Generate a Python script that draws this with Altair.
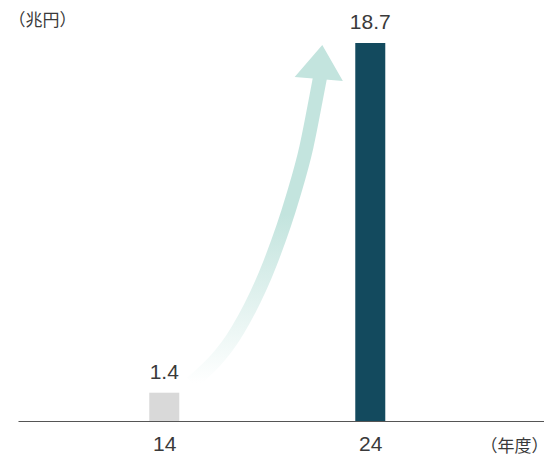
import altair as alt
import pandas as pd

# data
years = [14, 24]
values = [1.4, 18.7]
bar_colors = ["#d9d9d9", "#134a5e"]
value_labels = ["1.4", "18.7"]

# decorative growth arrow (data units)
arrow_x = [15.33, 17.57, 19.14, 20.24, 20.90, 21.38, 21.57]
arrow_y = [1.88, 4.50, 7.82, 11.08, 13.56, 16.03, 17.05]
head_x = [20.33, 21.67, 22.67]
head_y = [17.02, 18.60, 16.82]
head_y2 = [17.02, 16.91, 16.82]

ARROW = "#c3e4de"
TEXT = "#3a3a3a"

bars_df = pd.DataFrame({"year": years, "value": values, "color": bar_colors, "label": value_labels})
arrow_df = pd.DataFrame({"x": arrow_x, "y": arrow_y, "o": list(range(len(arrow_x)))})
head_df = pd.DataFrame({"x": head_x, "y": head_y, "y2": head_y2})

xscale = alt.Scale(domain=[7.143, 32.19], nice=False, zero=False)
yscale = alt.Scale(domain=[0, 20.83], nice=False)

xaxis = alt.Axis(
    values=years, format="d", grid=False, ticks=False, domain=True,
    domainColor="#555555", domainWidth=1.2,
    labelFontSize=21, labelColor=TEXT, labelFont="Liberation Sans", labelPadding=12,
    title="（年度）", titleFont="Noto Sans CJK JP", titleFontSize=17, titleFontWeight="normal",
    titleColor=TEXT, titleAngle=0, titleAlign="left", titleBaseline="middle",
    titleX=462, titleY=25,
)
yaxis = alt.Axis(
    grid=False, ticks=False, domain=False, labels=False,
    title="（兆円）", titleFont="Noto Sans CJK JP", titleFontSize=17, titleFontWeight="normal",
    titleColor=TEXT, titleAngle=0, titleAlign="left", titleBaseline="middle",
    titleX=-10, titleY=20,
)

base_x = alt.X("year:Q", scale=xscale, axis=xaxis)

bars = alt.Chart(bars_df).mark_bar(size=30).encode(
    x=base_x,
    y=alt.Y("value:Q", scale=yscale, axis=yaxis),
    color=alt.Color("color:N", scale=None, legend=None),
)

labels = alt.Chart(bars_df).mark_text(
    fontSize=21, font="Liberation Sans", color=TEXT, baseline="alphabetic", dy=-14
).encode(
    x=alt.X("year:Q", scale=xscale),
    y=alt.Y("value:Q", scale=yscale),
    text="label:N",
)

arrow = alt.Chart(arrow_df).mark_line(
    strokeWidth=14, strokeCap="butt", interpolate="monotone",
    stroke=alt.Gradient(
        gradient="linear", x1=0, x2=0, y1=1, y2=0,
        stops=[
            alt.GradientStop(color="rgba(195,228,222,0.0)", offset=0),
            alt.GradientStop(color="rgba(195,228,222,0.55)", offset=0.3),
            alt.GradientStop(color=ARROW, offset=0.55),
            alt.GradientStop(color=ARROW, offset=1),
        ],
    ),
).encode(
    x=alt.X("x:Q", scale=xscale),
    y=alt.Y("y:Q", scale=yscale),
    order="o:Q",
)

head = alt.Chart(head_df).mark_area(color=ARROW, opacity=1).encode(
    x=alt.X("x:Q", scale=xscale),
    y=alt.Y("y:Q", scale=yscale),
    y2="y2:Q",
)

chart = alt.layer(arrow, head, bars, labels).properties(
    width=526, height=421,
    background="white",
    padding={"left": 18, "top": 0, "right": 0, "bottom": 39},
    autosize=alt.AutoSizeParams(type="none"),
).configure_view(strokeWidth=0, stroke="transparent")

chart.save("out.html", embed_options={"renderer": "svg", "actions": False})
